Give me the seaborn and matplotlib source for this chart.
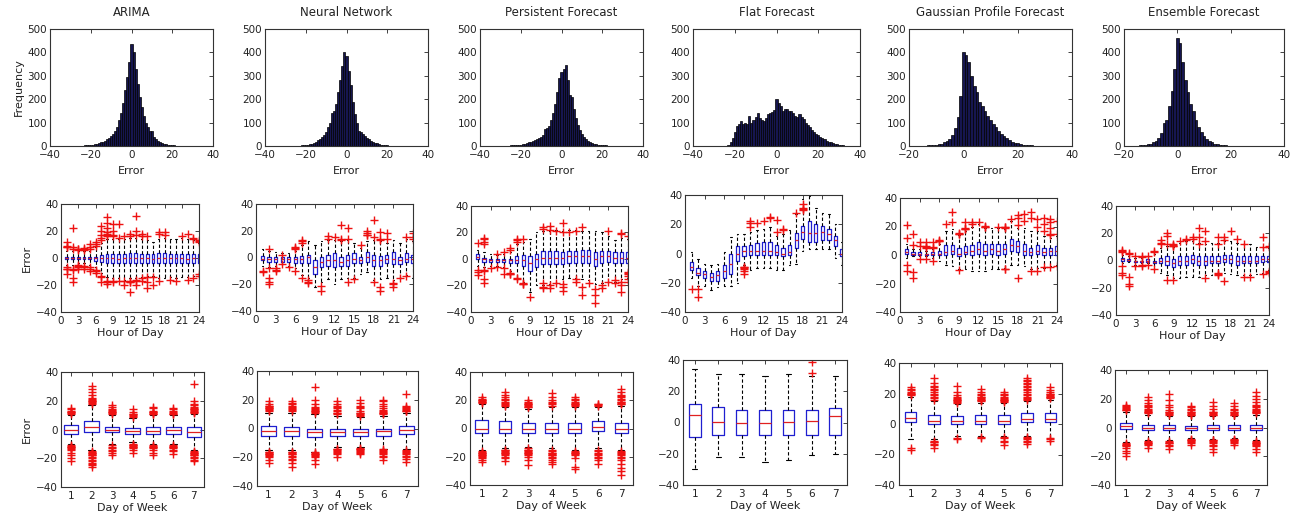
import matplotlib
matplotlib.use("Agg")
import matplotlib.pyplot as plt
import seaborn as sns
import numpy as np
import pandas as pd

# ---------------- data ----------------
models = ["ARIMA", "Neural Network", "Persistent Forecast", "Flat Forecast",
          "Gaussian Profile Forecast", "Ensemble Forecast"]

# histogram bins (error, centre of 1-unit bins) and frequencies
arima_hist_x = list(range(-24, 32))
arima_hist_n = [2, 3, 3, 4, 5, 6, 8, 10, 12, 15, 18, 22, 28, 35, 42, 50, 62, 82, 110, 140,
                185, 240, 295, 360, 435, 400, 330, 265, 210, 165, 130, 100, 80, 62, 66, 40,
                30, 22, 16, 12, 9, 7, 5, 4, 3, 3, 2, 2, 1, 1, 1, 0, 1, 0, 1, 1]
nn_hist_x = list(range(-26, 29))
nn_hist_n = [1, 0, 2, 2, 3, 4, 5, 6, 8, 10, 13, 18, 24, 30, 40, 46, 60, 80, 100, 140, 150,
             180, 230, 280, 340, 400, 385, 320, 260, 190, 135, 100, 62, 60, 52, 42, 36, 28,
             22, 18, 14, 11, 8, 6, 4, 3, 3, 2, 2, 1, 2, 0, 1, 0, 1]
pers_hist_x = list(range(-32, 28))
pers_hist_n = [1, 0, 2, 1, 2, 2, 2, 3, 3, 4, 4, 5, 6, 8, 10, 12, 15, 18, 22, 26, 30, 36,
               40, 45, 72, 75, 85, 110, 140, 180, 230, 290, 315, 330, 345, 280, 220, 210,
               160, 120, 90, 70, 52, 40, 30, 22, 16, 12, 9, 7, 6, 5, 4, 3, 3, 2, 2, 2, 1, 1]
flat_hist_x = list(range(-30, 39))
flat_hist_n = [2, 0, 0, 0, 0, 1, 2, 5, 15, 35, 60, 85, 95, 105, 95, 100, 95, 130, 100, 110,
               125, 140, 120, 110, 108, 120, 135, 140, 145, 155, 200, 185, 170, 150, 160,
               160, 150, 150, 140, 130, 125, 135, 125, 115, 100, 90, 80, 70, 60, 50, 45, 40,
               35, 28, 22, 18, 15, 12, 10, 7, 5, 4, 3, 2, 2, 1, 1, 0, 2]
gauss_hist_x = list(range(-17, 31))
gauss_hist_n = [2, 1, 2, 2, 3, 4, 5, 6, 8, 10, 15, 22, 32, 48, 75, 125, 215, 400, 390, 360,
                300, 255, 230, 190, 170, 150, 130, 110, 95, 80, 62, 50, 42, 35, 26, 18, 13,
                12, 8, 6, 4, 3, 3, 2, 2, 2, 2, 1]
ens_hist_x = list(range(-18, 26))
ens_hist_n = [1, 1, 2, 2, 3, 4, 5, 8, 10, 15, 22, 35, 55, 100, 112, 170, 235, 330, 460, 440,
              360, 280, 230, 180, 150, 110, 80, 60, 42, 28, 20, 15, 10, 8, 6, 4, 3, 2, 2, 1,
              1, 0, 1, 1]

hours = list(range(1, 25))
hour_ticks = [0, 3, 6, 9, 12, 15, 18, 21, 24]
days = [1, 2, 3, 4, 5, 6, 7]

# hourly boxes: (lower whisker, q1, median, q3, upper whisker)
arima_hour_box = [(-5, -1, 0, 1, 5), (-5, -1, 0, 1, 5), (-4, -1, 0, 1, 5), (-4, -1, 0, 1, 5),
                  (-5, -1, 0, 1, 5), (-7, -2, 0, 1, 8), (-11, -3, 0, 2, 11), (-14, -4, 0, 3, 14),
                  (-15, -4, 0, 3, 14), (-15, -4, -1, 3, 14), (-16, -4, 0, 3, 14), (-15, -4, 0, 4, 15),
                  (-15, -4, 0, 4, 15), (-14, -4, 0, 3, 14), (-13, -4, 0, 3, 13), (-13, -4, -1, 3, 12),
                  (-15, -4, 0, 4, 14), (-15, -4, 0, 4, 15), (-14, -4, 0, 3, 14), (-15, -4, 0, 3, 14),
                  (-14, -4, 0, 3, 15), (-14, -4, -1, 3, 14), (-13, -4, 0, 3, 13), (-12, -4, 0, 3, 11)]
arima_hour_up = [[8, 8.5, 9, 12], [7, 8, 22], [6, 6.5, 7], [6, 7, 7.5], [7, 8, 10], [9, 10, 12],
                 [13, 15, 17, 20, 24], [16, 17, 18, 19, 22, 26, 30], [16, 17, 20, 25], [15, 25],
                 [16], [16, 18], [17, 20, 31], [16, 18], [16], [], [18, 19], [17, 19], [], [],
                 [16], [18], [14, 15], [12, 12.5, 13]]
arima_hour_low = [[-7, -8, -8.5, -12], [-8, -9, -15, -18], [-5.5, -6, -7, -8], [-6, -7, -8],
                  [-7, -8, -10], [-9, -10, -11], [-13, -14, -18], [-17, -18, -19], [-17, -18],
                  [-17], [-17, -20], [-17, -17.5, -18, -25], [-16, -17, -20], [-15, -17],
                  [-14, -18, -22], [-14, -20], [-17], [], [-16], [-17], [], [-16], [-15], [-12, -13]]

nn_hour_box = [(-6, -2, -1, 1, 6), (-7, -3, -1, 0, 5), (-6, -3, -1, 0, 4), (-5, -3, -1, 0, 3),
               (-6, -3, -1, 0, 3), (-8, -4, -1, 0, 5), (-13, -4, -1, 1, 9), (-15, -4, 0, 2, 12),
               (-22, -12, -7, -2, 9), (-18, -7, -3, 0, 12), (-16, -6, -2, 2, 13), (-20, -7, -2, 3, 13),
               (-16, -6, -3, 0, 12), (-15, -6, -2, 2, 13), (-15, -4, -1, 3, 11), (-12, -4, -2, 0, 7),
               (-11, -3, 0, 4, 12), (-17, -6, -2, 2, 13), (-16, -6, -2, 1, 12), (-15, -4, -1, 2, 11),
               (-17, -5, -1, 4, 13), (-15, -5, -2, 0, 11), (-13, -3, -1, 3, 14), (-15, -4, -1, 2, 12)]
nn_hour_up = [[], [6], [], [2], [], [6.5, 7, 7.5], [11, 12, 13], [], [], [], [14, 16], [15],
              [13, 14, 24], [14, 22], [], [9], [16.5, 17, 18, 20], [15, 28], [13, 14, 19],
              [14, 18], [], [], [15], [14, 15, 18]]
nn_hour_low = [[-10, -11], [-8, -15, -18, -20], [-8, -9, -10], [-5], [-7], [-10], [-15],
               [-17, -18, -19], [], [-21, -25], [], [], [], [-18], [-16], [], [], [-18],
               [-22, -25], [], [-19, -20, -22], [-15], [-14], []]

pers_hour_box = [(-5, 0, 1.5, 3.5, 7), (-6, -2, 0, 1, 5), (-5, -2, -1, 0, 4), (-5, -2, -1, 0, 3),
                 (-6, -2, -1, 0, 4), (-9, -3, -1, 0, 5), (-14, -3, -1, 2, 11), (-17, -5, -1, 3, 13),
                 (-25, -9, -3, 2, 15), (-20, -6, 0, 4, 20), (-20, -4, 1, 6, 21), (-19, -4, 1, 6, 21),
                 (-18, -4, 1, 6, 22), (-15, -4, 1, 5, 21), (-14, -3, 2, 6, 22), (-14, -3, 2, 6, 22),
                 (-15, -3, 2, 7, 21), (-16, -3, 2, 7, 21), (-19, -5, 0, 5, 21), (-18, -3, 2, 6, 20),
                 (-17, -2, 2, 6, 17), (-17, -3, 1, 5, 14), (-15, -3, 1, 5, 16), (-14, -3, 1, 5, 15)]
pers_hour_up = [[12], [11, 13, 15, 16], [], [4], [5], [7, 8], [13, 14, 15], [15], [], [],
                [23, 24], [22, 25], [21], [20, 27], [20], [21], [24], [], [], [], [21], [],
                [19, 19.5], [17]]
pers_hour_low = [[-8, -10, -12], [-8, -9, -15, -18], [-7], [-6], [-7, -11], [-10.5, -11, -11.5],
                 [-14, -15], [-18, -18.5, -19], [-29], [], [-18, -21, -22], [-20, -22], [-18],
                 [-19, -21, -24], [], [-15, -17], [-21, -27], [-18], [-23, -27, -33], [-20, -22],
                 [-17], [-16, -18], [-17, -20, -25], [-10, -10.5, -11, -13, -15, -17]]

flat_hour_box = [(-17, -11, -9, -6, 1), (-22, -15, -13, -10, -4), (-22, -17, -14, -12, -7),
                 (-25, -19, -16, -13, -8), (-23, -19, -15, -12, -7), (-22, -17, -12, -8, 1),
                 (-22, -14, -7, 0, 11), (-20, -5, 0, 5, 13), (-8, -2, 2, 5, 13), (-11, -1, 2, 6, 15),
                 (-10, -1, 2, 7, 16), (-10, -1, 2, 8, 17), (-10, -1, 2, 8, 18), (-11, -1, 1, 6, 12),
                 (-11, -2, 0, 4, 13), (-8, -1, 1, 6, 16), (-7, 4, 9, 14, 27), (2, 10, 15, 19, 37),
                 (3, 8, 14, 22, 39), (3, 8, 14, 20, 31), (3, 9, 15, 19, 28), (3, 9, 13, 17, 27),
                 (-3, 5, 9, 12, 20), (-8, -2, 0, 3, 8)]
flat_hour_up = [[], [], [], [], [], [], [], [], [], [18, 21, 22], [21], [22], [24, 25], [15, 23],
                [16, 17], [], [28], [30, 30.5, 31, 34], [], [], [], [], [], []]
flat_hour_low = [[-24], [-24, -30], [], [], [], [], [], [], [-9, -9.5, -10, -10.5, -12, -14],
                 [], [], [], [], [], [], [], [], [], [], [], [], [], [], []]

gauss_hour_box = [(-2, 1, 2, 4, 8), (-1, 0, 1, 2, 4), (-1, 0, 1, 2, 4), (-1, 0, 0.5, 1, 3),
                  (-2, 0, 1, 2, 4), (-4, 0, 1, 3, 8), (-7, 0, 2, 7, 17), (-8, 1, 3, 7, 18),
                  (-10, -1, 1, 5, 14), (-10, 1, 2, 6, 17), (-11, 0, 3, 7, 20), (-11, 1, 4, 9, 22),
                  (-11, 0, 3, 8, 19), (-10, 1, 4, 8, 19), (-10, 0, 3, 8, 19), (-9, 1, 4, 8, 18),
                  (-7, 3, 7, 11, 24), (-7, 2, 6, 10, 19), (-8, 0, 3, 8, 19), (-10, 0, 2, 5, 17),
                  (-9, 1, 3, 7, 17), (-9, 0, 2, 5, 13), (-8, 0, 3, 5, 12), (-7, 0, 3, 6, 13)]
gauss_hour_up = [[12, 21], [7, 15], [6, 9], [5, 5.5, 6, 9], [5, 5.5, 9], [9.5, 10, 10.5], [22],
                 [23, 30], [14.5, 15, 15.5], [18, 18.5, 19, 23], [22, 23], [23], [19.5, 20, 20.5],
                 [], [20], [19, 19.5, 20], [25], [21, 26, 28], [24, 29], [26, 30], [20, 25],
                 [17, 22, 26], [14, 14.5, 19, 23, 25], [15, 24]]
gauss_hour_low = [[-7, -11], [-12, -16], [-3], [-3], [-4], [], [], [], [-10.5], [], [], [], [],
                  [], [], [-9.5, -10], [], [-16], [], [-11], [-11], [-8.5], [-8.5], [-7.5]]

ens_hour_box = [(-2, 0, 1, 2, 4), (-1, 0, 0.5, 1, 3), (-3, -1, -0.5, 0, 2), (-2, -1, -0.5, 0, 2),
                (-2, -1, 0, 1, 3), (-6, -2, -1, 0, 5), (-9, -2, 0, 2, 9), (-11, -3, 0, 3, 11),
                (-13, -5, -2, 1, 10), (-13, -3, 0, 3, 13), (-12, -3, 0, 3, 14), (-12, -2, 1, 4, 14),
                (-12, -3, 0, 3, 13), (-11, -3, 0, 3, 12), (-11, -2, 0, 3, 13), (-9, -2, 0, 3, 13),
                (-9, -1, 1, 4, 14), (-10, -2, 1, 4, 14), (-11, -3, 0, 3, 13), (-11, -2, 0, 3, 12),
                (-11, -2, 0, 3, 12), (-10, -2, 0, 3, 10), (-9, -1, 1, 3, 10), (-7, -1, 1, 3, 9)]
ens_hour_up = [[6.5, 7, 7.5], [5, 5.5], [3], [2.5, 3], [3.5], [6, 7], [12, 12.5, 15],
               [12, 18, 20], [10.5, 11, 11.5, 12], [14], [15, 16], [16, 17], [12, 17, 24],
               [14, 22], [], [12, 17], [15, 17], [22], [16], [12], [], [], [10, 17], [10, 10.5]]
ens_hour_low = [[-4, -9, -11], [-12, -17, -19], [-4], [-4, -3], [-3], [-6], [], [-14], [-14],
                [], [], [], [], [-13], [], [-9.5, -10, -10.5], [-15], [], [], [-12], [-12], [],
                [-10], [-8, -8.5, -9]]

# day-of-week boxes: (lower whisker, q1, median, q3, upper whisker)
arima_day_box = [(-10, -3, 0, 3, 10), (-14, -2, 1.5, 6, 17), (-10, -2, 0, 2, 10), (-9, -3, -1, 1, 8),
                 (-10, -3, -1, 2, 10), (-10, -3, 0, 2, 10), (-14, -5, -2, 2, 11)]
arima_day_up = [[11, 11.5, 12, 12.5, 13, 14, 15],
                [18, 18.5, 19, 19.5, 20, 20.5, 21, 22, 24, 26, 28, 30],
                [11, 11.5, 12, 12.5, 13, 13.5, 14, 16, 17],
                [9, 9.5, 10, 10.5, 11, 12, 14],
                [10.5, 11, 11.5, 12, 12.5, 13, 15, 16],
                [10.5, 11, 11.5, 12, 13, 14, 15],
                [11.5, 12, 12.5, 13, 13.5, 14, 14.5, 15, 16, 17, 18, 20, 32]]
arima_day_low = [[-11, -11.5, -12, -12.5, -13, -13.5, -14, -16, -18, -20, -22],
                 [-15, -15.5, -16, -16.5, -17, -17.5, -18, -19, -20, -21, -22, -23, -24, -25, -26],
                 [-11, -12, -13, -14, -15, -16, -18],
                 [-10, -10.5, -11, -11.5, -12, -12.5, -13, -14, -16],
                 [-11, -11.5, -12, -12.5, -13, -14, -16, -18],
                 [-11, -11.5, -12, -12.5, -13, -14, -15, -17],
                 [-15, -15.5, -16, -16.5, -17, -17.5, -18, -19, -20, -21, -22]]

nn_day_box = [(-15, -5, -1.5, 2, 11), (-15, -5, -2, 1, 11), (-16, -6, -2.5, 0, 10), (-13, -5, -2.5, 0, 9),
              (-13, -5, -2.5, 0, 8), (-14, -5, -2, 0, 9), (-14, -4, -1, 1.5, 11)]
nn_day_up = [[12, 13, 13.5, 14, 14.5, 15, 15.5, 16, 17, 19],
             [12, 13, 13.5, 14, 15, 16, 17, 18, 19],
             [11, 11.5, 12, 12.5, 13, 13.5, 14, 15, 17, 20, 29],
             [10, 10.5, 11, 12, 13, 14, 15, 16, 17, 19],
             [9, 9.5, 10, 10.5, 11, 12, 14, 15, 16, 18, 20],
             [10, 10.5, 11, 11.5, 12, 13, 14, 16, 17, 19, 20],
             [12, 12.5, 13, 13.5, 14, 15, 16, 24]]
nn_day_low = [[-16, -16.5, -17, -17.5, -18, -18.5, -19, -20, -22, -24],
              [-16, -16.5, -17, -17.5, -18, -19, -20, -21, -22, -24, -27],
              [-16.5, -17, -17.5, -18, -18.5, -19, -20, -22, -25],
              [-14, -14.5, -15, -15.5, -16, -17, -18, -20],
              [-13.5, -14, -14.5, -15, -15.5, -16, -17, -18],
              [-14.5, -15, -15.5, -16, -17, -18, -19, -20, -22],
              [-15, -15.5, -16, -17, -18, -19, -20, -21, -23]]

pers_day_box = [(-15, -3, 0, 6, 17), (-14, -3, 0, 5, 15), (-13, -3, 0, 4, 14), (-14, -3, 0, 4, 15),
                (-15, -3, 0, 4, 15), (-14, -2, 1, 5, 15), (-15, -3, 0, 4, 16)]
pers_day_up = [[18, 18.5, 19, 19.5, 20, 20.5, 21, 22],
               [16, 16.5, 17, 18, 19, 20, 21, 22, 24, 26],
               [15, 15.5, 16, 16.5, 17, 17.5, 18, 19, 20],
               [16, 17, 18, 19, 20, 22, 25],
               [16, 16.5, 17, 17.5, 18, 19, 20, 21, 22],
               [16, 16.5, 17, 17.5],
               [17, 17.5, 18, 18.5, 19, 20, 21, 22, 23, 24, 26, 28]]
pers_day_low = [[-16, -16.5, -17, -17.5, -18, -18.5, -19, -19.5, -20, -21, -22, -24],
                [-15, -15.5, -16, -16.5, -17, -17.5, -18, -19, -20, -21, -23],
                [-14, -15, -15.5, -16, -16.5, -17, -17.5, -18, -19, -20, -22, -26],
                [-15, -16, -17, -17.5, -18, -18.5, -19, -20, -21, -22, -24, -25],
                [-16, -16.5, -17, -17.5, -18, -19, -21, -27, -29],
                [-15, -16, -17, -18, -19, -20, -21, -22, -25],
                [-16, -16.5, -17, -18, -19, -20, -21, -22, -25, -28, -30, -33]]

flat_day_box = [(-30, -9, 5, 12, 34), (-22, -8, 0.5, 10, 31), (-22, -8, 0, 8, 31), (-25, -8, 0, 8, 30),
                (-24, -8, 0.5, 8, 31), (-21, -8, 1, 8, 30), (-20, -8, 4, 9, 30)]
flat_day_up = [[], [], [], [], [], [32, 39], []]
flat_day_low = [[], [], [], [], [], [], []]

gauss_day_box = [(-10, 1, 4, 8, 18), (-10, 0, 2, 6, 15), (-8, 0, 2, 5, 13), (-8, 0, 2, 6, 14),
                 (-8, 0, 2, 6, 14), (-8, 1, 3, 7, 15), (-9, 1, 3, 7, 16)]
gauss_day_up = [[19, 19.5, 20, 20.5, 21, 22, 23, 24],
                [16, 17, 18, 19, 20, 21, 22, 23, 24, 25, 27, 30],
                [14, 14.5, 15, 15.5, 16, 16.5, 17, 18, 19, 21, 25],
                [15, 15.5, 16, 16.5, 17, 17.5, 18, 19, 20, 21, 23],
                [14.5, 15, 15.5, 16, 16.5, 17, 18, 19, 20, 21],
                [16, 16.5, 17, 18, 19, 20, 21, 22, 23, 24, 25, 26, 27, 28, 29, 30],
                [17, 17.5, 18, 18.5, 19, 19.5, 20, 21, 22, 24]]
gauss_day_low = [[-16, -17], [-11, -11.5, -12, -13, -14, -16], [-9, -10], [-8.5, -9],
                 [-8.5, -9, -11, -12, -14], [-8.5, -9, -10, -11, -12, -13], [-9.5, -10, -11]]

ens_day_box = [(-10, -1, 1, 3, 11), (-9, -2, 0, 2, 9), (-9, -2, 0, 2, 8), (-7, -2, 0, 1, 8),
               (-8, -2, 0, 2, 8), (-7, -2, 0, 2, 8), (-9, -2, 0, 2, 9)]
ens_day_up = [[12, 12.5, 13, 13.5, 14, 15, 16],
              [10, 10.5, 11, 11.5, 12, 13, 14, 15, 16, 17, 19, 21],
              [9, 9.5, 10, 10.5, 11, 12, 14, 16, 19, 23],
              [8.5, 9, 9.5, 10, 10.5, 11, 12, 13, 14, 15],
              [8.5, 9, 9.5, 10, 10.5, 11, 13, 15, 18],
              [8.5, 9, 9.5, 10, 10.5, 11, 12, 13, 15, 17],
              [10, 10.5, 11, 11.5, 12, 13, 14, 15, 16, 18, 20, 22, 25]]
ens_day_low = [[-11, -11.5, -12, -12.5, -13, -14, -16, -18, -20],
               [-9.5, -10, -10.5, -11, -11.5, -12, -14],
               [-9.5, -10, -10.5, -11, -12, -13, -15],
               [-8, -8.5, -9, -9.5, -10, -11, -12],
               [-8.5, -9, -9.5, -10, -11, -12, -13, -15, -17],
               [-8, -8.5, -9, -9.5, -10, -10.5, -12],
               [-9.5, -10, -10.5, -11, -11.5, -12, -13, -15, -17]]

hist_x = [arima_hist_x, nn_hist_x, pers_hist_x, flat_hist_x, gauss_hist_x, ens_hist_x]
hist_n = [arima_hist_n, nn_hist_n, pers_hist_n, flat_hist_n, gauss_hist_n, ens_hist_n]
hist_xlim = [(-40, 40), (-40, 40), (-40, 40), (-40, 40), (-20, 40), (-20, 40)]
hour_box = [arima_hour_box, nn_hour_box, pers_hour_box, flat_hour_box, gauss_hour_box, ens_hour_box]
hour_up = [arima_hour_up, nn_hour_up, pers_hour_up, flat_hour_up, gauss_hour_up, ens_hour_up]
hour_low = [arima_hour_low, nn_hour_low, pers_hour_low, flat_hour_low, gauss_hour_low, ens_hour_low]
day_box = [arima_day_box, nn_day_box, pers_day_box, flat_day_box, gauss_day_box, ens_day_box]
day_up = [arima_day_up, nn_day_up, pers_day_up, flat_day_up, gauss_day_up, ens_day_up]
day_low = [arima_day_low, nn_day_low, pers_day_low, flat_day_low, gauss_day_low, ens_day_low]

# ---------------- layout (pixels: left, right, top, bottom) ----------------
row1_pos = [(50, 213, 29, 146), (265, 428, 29, 146), (480, 643, 29, 146),
            (693, 860, 29, 146), (909, 1072, 29, 146), (1124, 1284, 29, 146)]
row2_pos = [(61, 199, 204, 312), (256, 413, 204, 311), (471, 628, 206, 312),
            (685, 842, 195, 312), (900, 1057, 198, 312), (1116, 1269, 206, 315)]
row3_pos = [(61, 204, 372, 487), (257, 418, 371, 486), (470, 633, 372, 485),
            (683, 847, 360, 485), (899, 1062, 363, 485), (1115, 1267, 370, 485)]
day_width = [0.7, 0.65, 0.55, 0.5, 0.5, 0.55]

sns.set_theme(style="white")
plt.rcParams["font.family"] = ["DejaVu Sans"]
plt.rcParams["font.size"] = 7.5

FS_TICK = 7.5
FS_LABEL = 8
FS_TITLE = 8.5

W, H = 1292, 514
fig = plt.figure(figsize=(W / 100, H / 100), dpi=100)
fig.patch.set_facecolor("white")


def add_ax(p):
    l, r, t, b = p
    return fig.add_axes([l / W, 1 - b / H, (r - l) / W, (b - t) / H])


def style(ax):
    ax.tick_params(direction="in", top=True, right=True, length=3, width=0.6,
                   labelsize=FS_TICK, colors="#222222", labelcolor="#222222")
    ax.tick_params(axis="x", pad=3)
    ax.tick_params(axis="y", pad=2)
    for s in ax.spines.values():
        s.set_visible(True)
        s.set_color("#333333")
        s.set_linewidth(0.8)


def draw_boxes(ax, boxes, ups, lows, positions, width, ms):
    stats = []
    for (wlo, q1, med, q3, whi), up, lo in zip(boxes, ups, lows):
        stats.append(dict(whislo=wlo, q1=q1, med=med, q3=q3, whishi=whi,
                          fliers=list(up) + list(lo)))
    ax.bxp(stats, positions=positions, widths=width, capwidths=width * 0.45,
           showfliers=True, manage_ticks=False,
           boxprops=dict(color="#1f1fd0", lw=0.9),
           medianprops=dict(color="#e02020", lw=0.9),
           whiskerprops=dict(color="black", ls=(0, (3, 2)), lw=0.8),
           capprops=dict(color="black", lw=0.8),
           flierprops=dict(marker="+", markeredgecolor="#ee1111", markersize=ms,
                           markeredgewidth=1.0, linestyle="none"))


for i, name in enumerate(models):
    # histogram
    ax = add_ax(row1_pos[i])
    df = pd.DataFrame({"err": hist_x[i], "freq": hist_n[i]})
    edges = [e - 0.5 for e in hist_x[i]] + [hist_x[i][-1] + 0.5]
    sns.histplot(data=df, x="err", weights="freq", bins=edges, ax=ax, color="#161650",
                 edgecolor="black", linewidth=0.5, alpha=1.0)
    ax.set_xlim(*hist_xlim[i])
    ax.set_ylim(0, 500)
    ax.set_xticks(np.arange(hist_xlim[i][0], hist_xlim[i][1] + 1, 20))
    ax.set_yticks([0, 100, 200, 300, 400, 500])
    ax.set_title(name, fontsize=FS_TITLE, pad=9, color="#222222")
    ax.set_xlabel("Error", fontsize=FS_LABEL, labelpad=4, color="#222222")
    ax.set_ylabel("Frequency" if i == 0 else "", fontsize=FS_LABEL, labelpad=3, color="#222222")
    style(ax)

    # hour of day
    ax = add_ax(row2_pos[i])
    draw_boxes(ax, hour_box[i], hour_up[i], hour_low[i], hours, 0.5, 6)
    ax.set_xlim(0, 24)
    ax.set_ylim(-40, 40)
    ax.set_xticks(hour_ticks)
    ax.set_yticks([-40, -20, 0, 20, 40])
    ax.set_xlabel("Hour of Day", fontsize=FS_LABEL, labelpad=1, color="#222222")
    ax.set_ylabel("Error" if i == 0 else "", fontsize=FS_LABEL, labelpad=3, color="#222222")
    style(ax)

    # day of week
    ax = add_ax(row3_pos[i])
    draw_boxes(ax, day_box[i], day_up[i], day_low[i], days, day_width[i], 6)
    ax.set_xlim(0.5, 7.5)
    ax.set_ylim(-40, 40)
    ax.set_xticks(days)
    ax.set_yticks([-40, -20, 0, 20, 40])
    ax.set_xlabel("Day of Week", fontsize=FS_LABEL, labelpad=1, color="#222222")
    ax.set_ylabel("Error" if i == 0 else "", fontsize=FS_LABEL, labelpad=3, color="#222222")
    style(ax)

fig.savefig("out.png", dpi=100, facecolor="white")
